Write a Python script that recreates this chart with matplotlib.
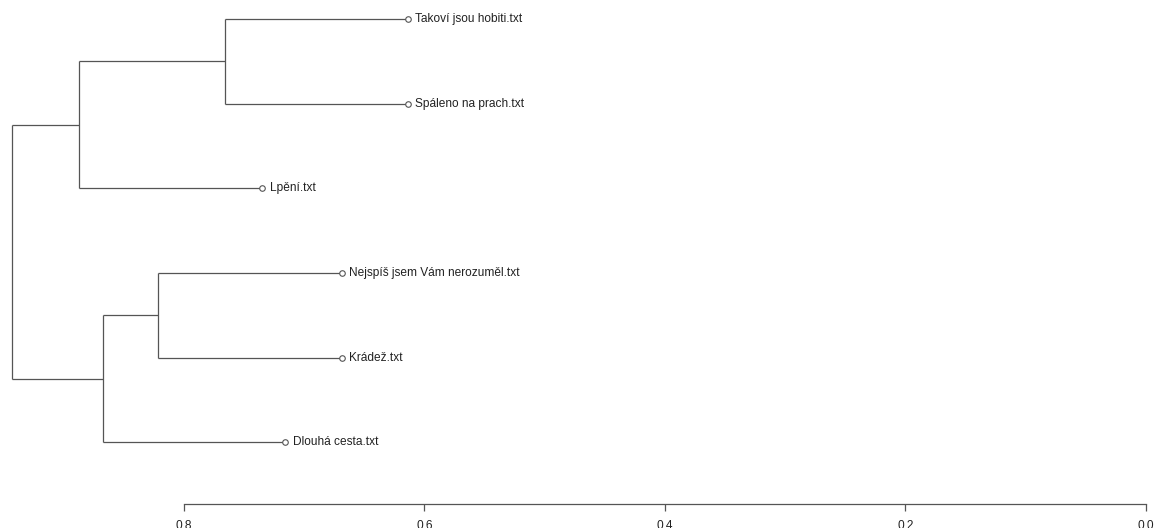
import matplotlib.pyplot as plt

plt.rcParams['font.family'] = ['Liberation Sans', 'DejaVu Sans']

# listy dendrogramu (shora dolů)
labels = [
    "Takoví jsou hobiti.txt",
    "Spáleno na prach.txt",
    "Lpění.txt",
    "Nejspíš jsem Vám nerozuměl.txt",
    "Krádež.txt",
    "Dlouhá cesta.txt",
]
leaf_heights = [0.614, 0.614, 0.735, 0.669, 0.669, 0.716]

# spojení: záporné číslo = list (1-based), kladné = dřívější shluk
merge_left = [-1, 1, -4, 3, 2]
merge_right = [-2, -3, -5, -6, 4]
merge_heights = [0.766, 0.887, 0.822, 0.867, 0.943]

axis_ticks = [0.8, 0.6, 0.4, 0.2, 0.0]
tick_labels = ["0.8", "0.6", "0.4", "0.2", "0.0"]

LINE = "#555555"

fig = plt.figure(figsize=(11.55, 5.28), dpi=100)
ax = fig.add_axes([0, 0, 1, 1])


def node_info(k):
    """vrátí (pozice, výška) uzlu"""
    if k < 0:
        return -k, leaf_heights[-k - 1]
    return positions[k - 1], merge_heights[k - 1]


positions = []
for i, h in enumerate(merge_heights):
    pl, hl = node_info(merge_left[i])
    pr, hr = node_info(merge_right[i])
    pos = (pl + pr) / 2
    positions.append(pos)
    ax.plot([h, h], [pl, pr], color=LINE, lw=0.9, solid_capstyle="butt")
    ax.plot([h, hl], [pl, pl], color=LINE, lw=0.9, solid_capstyle="butt")
    ax.plot([h, hr], [pr, pr], color=LINE, lw=0.9, solid_capstyle="butt")

leaf_pos = list(range(1, len(labels) + 1))
ax.plot(leaf_heights, leaf_pos, linestyle="none", marker="o", ms=4.0,
        mfc="white", mec=LINE, mew=0.8)
for x, y, lab in zip(leaf_heights, leaf_pos, labels):
    ax.annotate(lab, (x, y), xytext=(5.5, 0), textcoords="offset points",
                ha="left", va="center", fontsize=8.6, color="#222222")

ax.set_xlim(0.953, -0.0075)
ax.set_ylim(7.012, 0.7756)

for s in ["top", "right", "left"]:
    ax.spines[s].set_visible(False)
ax.spines["bottom"].set_position(("data", 6.729))
ax.spines["bottom"].set_bounds(0.8, 0.0)
ax.spines["bottom"].set_color(LINE)
ax.spines["bottom"].set_linewidth(0.9)
ax.set_xticks(axis_ticks)
ax.set_xticklabels(tick_labels)
ax.tick_params(axis="x", direction="out", length=5, width=0.9, color=LINE,
               labelsize=8.6, labelcolor="#222222", pad=6.5)
ax.set_yticks([])

fig.savefig("out.png", dpi=100)
